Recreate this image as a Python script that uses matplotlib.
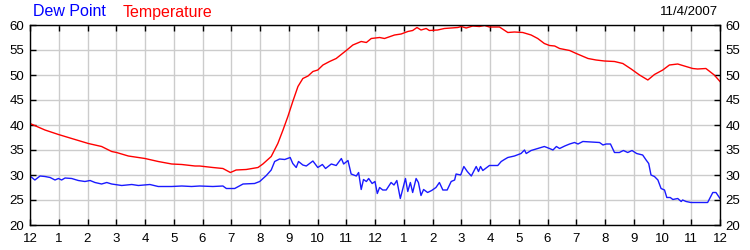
import matplotlib
matplotlib.use("Agg")
import matplotlib.pyplot as plt

# Time in hours since midnight (0 = 12 AM, 24 = next 12 AM)
temp_hours = [0.0, 0.52, 0.99, 1.45, 2.03, 2.49, 2.84, 3.01, 3.42, 4.0, 4.46, 4.93, 5.28,
              5.74, 5.9, 6.36, 6.71, 6.97, 7.17, 7.52, 7.93, 8.1, 8.39, 8.62, 8.8, 8.97,
              9.14, 9.32, 9.49, 9.67, 9.84, 10.01, 10.19, 10.42, 10.65, 11.0, 11.23, 11.52,
              11.7, 11.87, 12.16, 12.33, 12.68, 12.91, 13.14, 13.31, 13.46, 13.6, 13.78,
              13.89, 14.18, 14.41, 14.88, 15.0, 15.17, 15.4, 15.63, 15.81, 15.98, 16.33,
              16.62, 16.85, 17.14, 17.43, 17.66, 17.89, 18.07, 18.25, 18.42, 18.77, 19.0,
              19.41, 19.69, 19.98, 20.33, 20.62, 20.91, 21.2, 21.49, 21.72, 22.01, 22.24,
              22.53, 22.76, 23.05, 23.22, 23.51, 23.8, 24.0]
temperature = [40.3, 39.0, 38.1, 37.3, 36.3, 35.7, 34.7, 34.5, 33.8, 33.3, 32.7, 32.2, 32.1,
               31.8, 31.8, 31.5, 31.3, 30.5, 31.0, 31.1, 31.5, 32.2, 33.7, 36.3, 39.0, 41.7,
               44.7, 47.7, 49.3, 49.8, 50.7, 51.0, 52.0, 52.7, 53.3, 54.9, 56.0, 56.7,
               56.5, 57.3, 57.5, 57.3, 58.0, 58.2, 58.7, 58.9, 59.5, 59.0, 59.3,
               58.9, 59.0, 59.3, 59.5, 59.7, 59.4, 59.8, 59.7, 59.9, 59.6, 59.6,
               58.5, 58.6, 58.5, 58.0, 57.3, 56.3, 55.9, 55.8, 55.3, 54.9, 54.3,
               53.3, 53.0, 52.8, 52.7, 52.3, 51.2, 50.0, 49.0, 50.1, 51.0, 52.0,
               52.2, 51.8, 51.3, 51.2, 51.3, 50.0, 48.7]

dew_hours = [0.0, 0.17, 0.35, 0.52, 0.70, 0.87, 0.99, 1.10, 1.22, 1.45, 1.68, 1.91, 2.09,
             2.26, 2.49, 2.67, 2.84, 3.19, 3.54, 3.77, 4.17, 4.46, 4.93, 5.28, 5.62, 5.9,
             6.36, 6.71, 6.83, 7.12, 7.41, 7.81, 7.99, 8.22, 8.39, 8.51, 8.68, 8.86, 9.05,
             9.14, 9.26, 9.34, 9.49, 9.61, 9.84, 10.01, 10.17, 10.28, 10.48, 10.65, 10.83,
             10.91, 11.06, 11.17, 11.35, 11.43, 11.52, 11.6, 11.7, 11.78, 11.9, 12.0,
             12.08, 12.16, 12.27, 12.39, 12.56, 12.66, 12.76, 12.88, 12.97, 13.06, 13.14,
             13.23, 13.31, 13.43, 13.51, 13.6, 13.69, 13.83, 13.97, 14.12, 14.24, 14.36,
             14.51, 14.65, 14.77, 14.82, 14.98, 15.09, 15.21, 15.35, 15.52, 15.6, 15.67,
             15.75, 15.98, 16.27, 16.39, 16.5, 16.62, 16.85, 17.08, 17.2, 17.26, 17.43,
             17.66, 17.89, 18.07, 18.19, 18.31, 18.42, 18.6, 18.77, 18.94, 19.06, 19.23,
             19.81, 19.93, 20.04, 20.19, 20.33, 20.5, 20.64, 20.79, 20.94, 21.1, 21.31,
             21.43, 21.52, 21.6, 21.72, 21.84, 21.95, 22.07, 22.15, 22.27, 22.36, 22.53,
             22.65, 22.7, 22.82, 22.99, 23.57, 23.75, 23.86, 24.0]
dew_point = [29.8, 29.0, 29.8, 29.7, 29.5, 29.0, 29.3, 29.0, 29.4, 29.3, 28.9, 28.7, 28.9,
             28.5, 28.2, 28.5, 28.2, 27.9, 28.1, 27.9, 28.1, 27.7, 27.7, 27.8, 27.7, 27.8,
             27.7, 27.8, 27.3, 27.3, 28.2, 28.3, 28.7, 29.9, 31.0, 32.7, 33.2, 33.1, 33.5,
             32.3, 31.5, 32.7, 32.0, 31.8, 32.8, 31.5, 32.1, 31.3, 32.2, 31.9, 33.3,
             32.2, 32.9, 30.2, 29.8, 30.5, 27.1, 29.1, 28.7, 29.3, 28.3, 28.7,
             26.3, 27.5, 27.0, 27.0, 28.5, 28.0, 28.9, 25.3, 27.3, 29.3, 26.7,
             28.5, 26.5, 29.3, 28.5, 25.9, 27.1, 26.5, 26.9, 27.5, 28.5, 27.0,
             27.0, 28.7, 29.0, 30.2, 30.0, 31.7, 30.7, 29.8, 31.7, 30.7, 31.7,
             30.9, 31.9, 31.9, 32.7, 33.1, 33.5, 33.8, 34.3, 35.0, 34.3, 34.9,
             35.3, 35.7, 35.3, 35.0, 35.7, 35.3, 35.8, 36.2, 36.5, 36.2, 36.7,
             36.5, 36.0, 36.2, 36.2, 34.5, 34.5, 34.9, 34.5, 34.9, 34.3, 34.0,
             33.0, 32.3, 30.0, 29.7, 29.0, 27.3, 27.0, 25.5, 25.5, 25.1, 25.3,
             24.7, 25.0, 24.7, 24.5, 24.5, 26.5, 26.5, 25.3]

x_tick_labels = ["12", "1", "2", "3", "4", "5", "6", "7", "8", "9", "10", "11",
                 "12", "1", "2", "3", "4", "5", "6", "7", "8", "9", "10", "11", "12"]
y_ticks = [20, 25, 30, 35, 40, 45, 50, 55, 60]
date_label = "11/4/2007"

plt.rcParams['font.family'] = ['Liberation Sans', 'DejaVu Sans']

fig = plt.figure(figsize=(7.5, 2.5), dpi=100)
ax = fig.add_axes([0.04, 0.10, 0.92, 0.80])

ax.plot(temp_hours, temperature, color='#ff0000', lw=1.0)
ax.plot(dew_hours, dew_point, color='#1a1aff', lw=1.0)

ax.set_xlim(0, 24)
ax.set_ylim(20, 60)
ax.set_xticks(range(25))
ax.set_xticklabels(x_tick_labels)
ax.set_yticks(y_ticks)
ax.grid(True, color='#cccccc', lw=1.0)
ax.set_axisbelow(True)
for s in ax.spines.values():
    s.set_color('black')
    s.set_linewidth(1.0)
ax.tick_params(axis='both', direction='in', length=4, width=1, labelsize=9.5,
               top=True, right=True, labelright=True, colors='black')
ax.tick_params(axis='x', pad=6)
ax.tick_params(axis='y', pad=4)

fig.text(33 / 750, 1 - 12 / 250, "Dew Point", color='#0000ff', fontsize=11.5,
         ha='left', va='center')
fig.text(123 / 750, 1 - 12 / 250, "Temperature", color='#ff0000', fontsize=11.5,
         ha='left', va='center')
fig.text(718 / 750, 1 - 12 / 250, date_label, color='black', fontsize=9.5,
         ha='right', va='center')

fig.savefig("out.png", dpi=100)
